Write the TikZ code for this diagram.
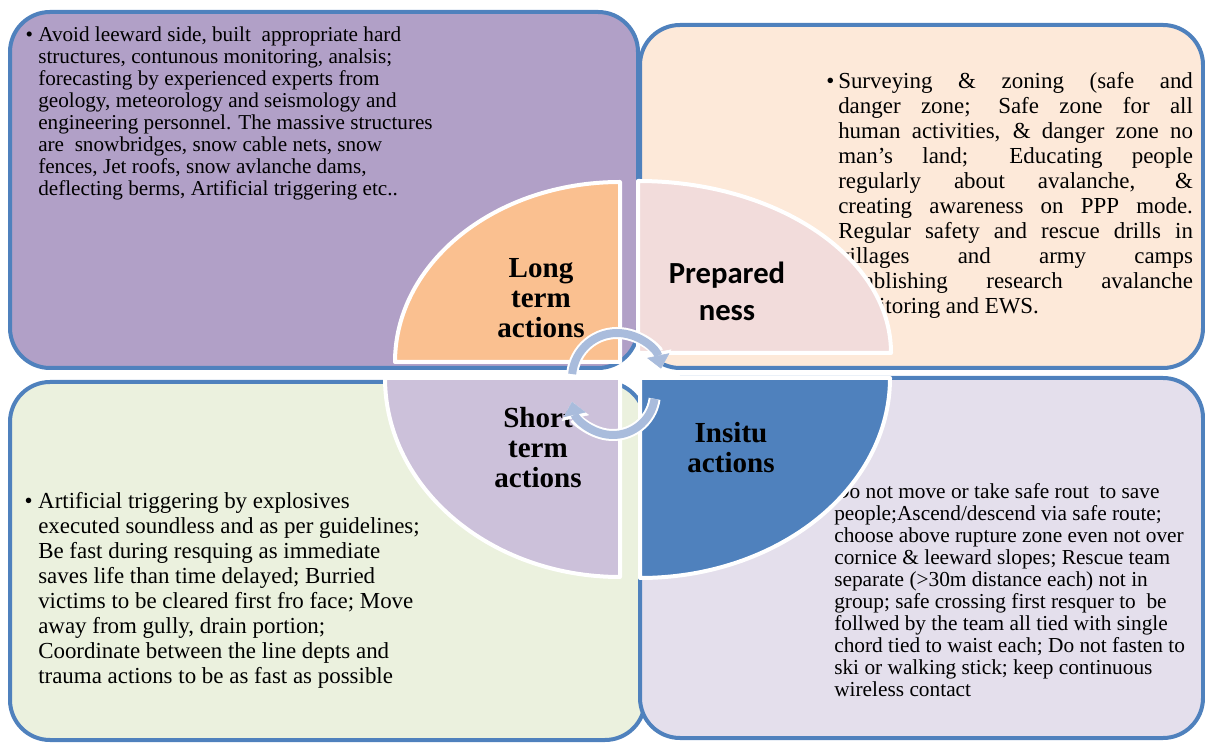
\documentclass[tikz,border=0pt]{standalone}
\usepackage{fontspec}
\setmainfont{Liberation Serif}
\newfontfamily\calibri{Carlito}
\usetikzlibrary{arrows.meta, positioning}
\definecolor{boxBorder}{HTML}{4F81BD}
\definecolor{longBox}{HTML}{B1A0C7}
\definecolor{prepBox}{HTML}{FDE9D9}
\definecolor{shortBox}{HTML}{EBF1DE}
\definecolor{insituBox}{HTML}{E4DFEC}
\definecolor{longSlice}{HTML}{FAC090}
\definecolor{prepSlice}{HTML}{F2DCDB}
\definecolor{shortSlice}{HTML}{CCC1DA}
\definecolor{insituSlice}{HTML}{4F81BD}
\definecolor{cycleBlue}{HTML}{A9BCDC}
\tikzstyle{panel}=[draw=boxBorder, line width=3pt, rounded corners=30pt]
\tikzstyle{slice}=[draw=white, line width=3pt, line join=round]
\tikzstyle{bodyText}=[inner sep=0pt, anchor=north west, align=left]
\tikzstyle{sliceLabel}=[inner sep=0pt, align=center, font=\bfseries\fontsize{21.8}{22.5}\selectfont]
\tikzstyle{cycleArrow}=[draw=cycleBlue, line width=6pt,
  -{Triangle[length=10pt, width=17pt, line width=0.4pt]},
  preaction={draw=white, line width=9pt, -{Triangle[length=12.5pt, width=21pt, line width=0.4pt]}}]

\begin{document}
\begin{tikzpicture}[x=0.75pt, y=0.75pt]
      \useasboundingbox (0,0) rectangle (1205,742);

      % four panels
      \draw[panel, fill=longBox] (10,730) rectangle (638,374);
      \draw[panel, fill=prepBox] (640,717) rectangle (1203,374);
      \draw[panel, fill=shortBox] (10,360) rectangle (645,2);
      \draw[panel, fill=insituBox] (640,364) rectangle (1203,4);

      % panel texts
      \node[bodyText, font=\fontsize{15.9}{16.5}\selectfont] (longText) at (38,715)
        {\llap{\textbullet\ }Avoid leeward side, built\ \ appropriate hard\\
         structures, contunous monitoring, analsis;\\
         forecasting by experienced experts from\\
         geology, meteorology and seismology and\\
         engineering personnel. The massive structures\\
         are\ \ snowbridges, snow cable nets, snow\\
         fences, Jet roofs, snow avlanche dams,\\
         deflecting berms, Artificial triggering etc..};
      \node[bodyText, text width=266pt, align=justify, font=\fontsize{17.2}{18.75}\selectfont] (prepText) at (838,670)
        {\llap{\textbullet\,}Surveying \& zoning (safe and\linebreak
         danger zone; Safe zone for all\linebreak
         human activities, \& danger zone no\linebreak
         man’s land; Educating people\linebreak
         regularly about avalanche, \&\linebreak
         creating awareness on PPP mode.\linebreak
         Regular safety and rescue drills in\linebreak
         villages and army camps\linebreak
         establishing research avalanche\linebreak
         monitoring and EWS.};
      \node[bodyText, font=\fontsize{17.2}{18.75}\selectfont] (shortText) at (38,250)
        {\llap{\textbullet\ }Artificial triggering by explosives\\
         executed soundless and as per guidelines;\\
         Be fast during resquing as immediate\\
         saves life than time delayed; Burried\\
         victims to be cleared first fro face; Move\\
         away from gully, drain portion;\\
         Coordinate between the line depts and\\
         trauma actions to be as fast as possible};
      \node[bodyText, font=\fontsize{16}{16.5}\selectfont] (insituText) at (834,259)
        {Do not move or take safe rout\ \ to save\\
         people;Ascend/descend via safe route;\\
         choose above rupture zone even not over\\
         cornice \& leeward slopes; Rescue team\\
         separate (>30m distance each) not in\\
         group; safe crossing first resquer to\ \ be\\
         follwed by the team all tied with single\\
         chord tied to waist each; Do not fasten to\\
         ski or walking stick; keep continuous\\
         wireless contact};

      % exploded pie in the middle
      \draw[slice, fill=longSlice] (620,380) -- (395,380) arc[start angle=180, end angle=90, x radius=225, y radius=180] -- cycle;
      \draw[slice, fill=prepSlice] (638,389) -- (638,561) arc[start angle=90, end angle=0, x radius=253, y radius=172] -- cycle;
      \draw[slice, fill=shortSlice] (620,364) -- (620,165) arc[start angle=270, end angle=180, x radius=235, y radius=199] -- cycle;
      \draw[slice, fill=insituSlice] (640,364) -- (890,364) arc[start angle=0, end angle=-90, x radius=250, y radius=200] -- cycle;

      \node[sliceLabel] (longLabel) at (541,444) {Long\\term\\actions};
      \node[sliceLabel, font=\calibri\bfseries\fontsize{23}{27.75}\selectfont] (prepLabel) at (727,451) {Prepared\\ness};
      \node[sliceLabel] (shortLabel) at (538,294) {Short\\term\\actions};
      \node[sliceLabel] (insituLabel) at (731,294) {Insitu\\actions};

      % cycle arrows
      \coordinate (upperPivot) at (617,364);
      \coordinate (lowerPivot) at (613,349);
      \path (upperPivot) ++(175:45) coordinate (upperStart);
      \path (lowerPivot) ++(-8:42) coordinate (lowerStart);
      \draw[cycleArrow] (upperStart) arc[start angle=175, end angle=12, radius=45];
      \draw[cycleArrow] (lowerStart) arc[start angle=-8, end angle=-168, radius=42];
\end{tikzpicture}
\end{document}
